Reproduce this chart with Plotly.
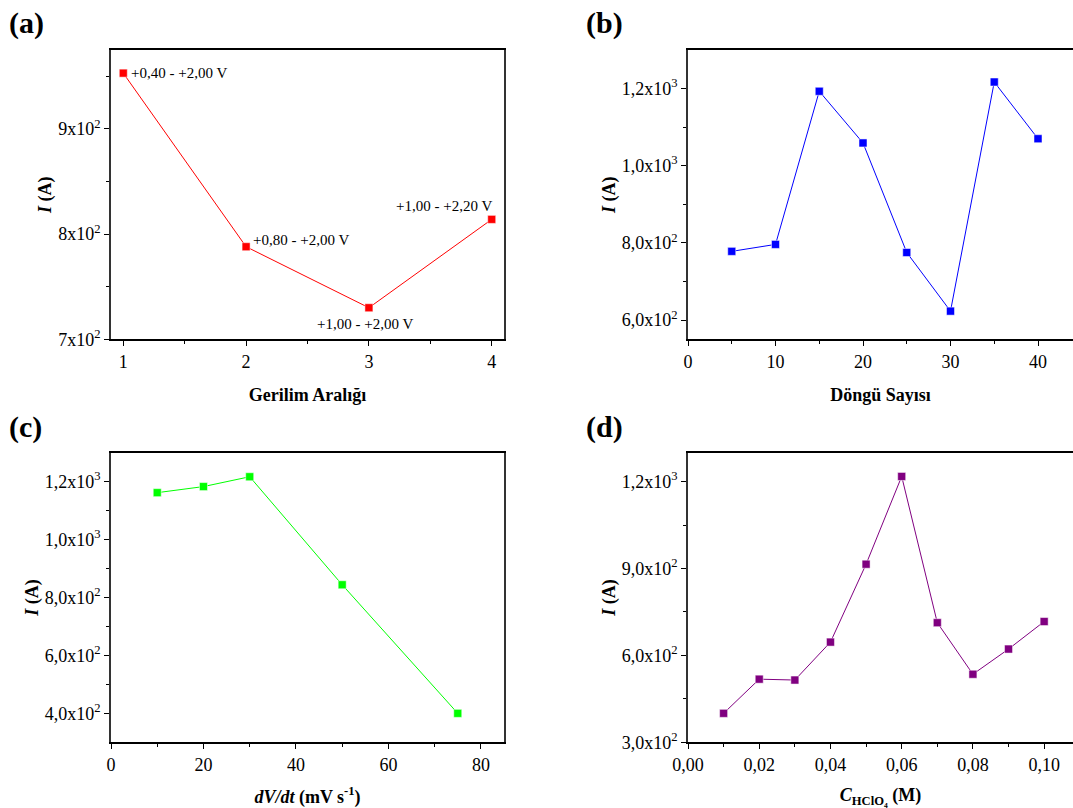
import plotly.graph_objects as go

W, H = 1073, 808

# ---------------- data ----------------
a_x = [1, 2, 3, 4]
a_y = [953, 788, 730, 814]
a_labels = ["+0,40 - +2,00 V", "+0,80 - +2,00 V", "+1,00 - +2,00 V", "+1,00 - +2,20 V"]

b_x = [5, 10, 15, 20, 25, 30, 35, 40]
b_y = [778, 796, 1193, 1059, 775, 623, 1217, 1070]

c_x = [10, 20, 30, 50, 75]
c_y = [1162, 1183, 1217, 844, 400]

d_x = [0.01, 0.02, 0.03, 0.04, 0.05, 0.06, 0.07, 0.08, 0.09, 0.10]
d_y = [400, 518, 515, 646, 915, 1218, 713, 535, 622, 717]

# tick values / labels
a_xt = [1, 2, 3, 4]
a_xt_text = ["1", "2", "3", "4"]
a_yt = [700, 800, 900]
a_yt_text = ["7x10<sup>2</sup>", "8x10<sup>2</sup>", "9x10<sup>2</sup>"]

b_xt = [0, 10, 20, 30, 40]
b_xt_text = ["0", "10", "20", "30", "40"]
b_yt = [600, 800, 1000, 1200]
b_yt_text = ["6,0x10<sup>2</sup>", "8,0x10<sup>2</sup>", "1,0x10<sup>3</sup>", "1,2x10<sup>3</sup>"]

c_xt = [0, 20, 40, 60, 80]
c_xt_text = ["0", "20", "40", "60", "80"]
c_yt = [400, 600, 800, 1000, 1200]
c_yt_text = ["4,0x10<sup>2</sup>", "6,0x10<sup>2</sup>", "8,0x10<sup>2</sup>",
             "1,0x10<sup>3</sup>", "1,2x10<sup>3</sup>"]

d_xt = [0.0, 0.02, 0.04, 0.06, 0.08, 0.10]
d_xt_text = ["0,00", "0,02", "0,04", "0,06", "0,08", "0,10"]
d_yt = [300, 600, 900, 1200]
d_yt_text = ["3,0x10<sup>2</sup>", "6,0x10<sup>2</sup>", "9,0x10<sup>2</sup>", "1,2x10<sup>3</sup>"]

# minor ticks
a_xm = [1.5, 2.5, 3.5]
a_ym = [750, 850, 950]
b_xm = [5, 15, 25, 35]
b_ym = [700, 900, 1100]
c_xm = [10, 30, 50, 70]
c_ym = [500, 700, 900, 1100]
d_xm = [0.01, 0.03, 0.05, 0.07, 0.09]
d_ym = [450, 750, 1050]

FONT = "Liberation Serif, Times New Roman, serif"
TICKF = dict(family=FONT, size=18, color="black")
TITLEF = dict(family=FONT, size=18, color="black")

# ---------------- layout geometry (pixels) ----------------
def px_x(p):
    return p / W

def px_y(p):
    return 1 - p / H

dom_x_left = [px_x(111), px_x(504)]
dom_x_right = [px_x(688), 1.0]
dom_y_top = [px_y(339.3), px_y(50)]
dom_y_bot = [px_y(742.3), px_y(452.7)]

panels = [
    dict(x=a_x, y=a_y, color="#FF0000", xr=[0.9, 4.1], yr=[700, 975],
         xt=a_xt, xtt=a_xt_text, yt=a_yt, ytt=a_yt_text, xm=a_xm, ym=a_ym,
         dx=dom_x_left, dy=dom_y_top, xtitle="<b>Gerilim Aralığı</b>", right=True),
    dict(x=b_x, y=b_y, color="#0000FF", xr=[0, 44.0], yr=[550, 1300],
         xt=b_xt, xtt=b_xt_text, yt=b_yt, ytt=b_yt_text, xm=b_xm, ym=b_ym,
         dx=dom_x_right, dy=dom_y_top, xtitle="<b>Döngü Sayısı</b>", right=False),
    dict(x=c_x, y=c_y, color="#00FF00", xr=[0, 85], yr=[300, 1300],
         xt=c_xt, xtt=c_xt_text, yt=c_yt, ytt=c_yt_text, xm=c_xm, ym=c_ym,
         dx=dom_x_left, dy=dom_y_bot,
         xtitle="<b><i>dV/dt</i> (mV s<sup>-1</sup>)</b>", right=True),
    dict(x=d_x, y=d_y, color="#800080", xr=[0, 0.1081], yr=[300, 1300],
         xt=d_xt, xtt=d_xt_text, yt=d_yt, ytt=d_yt_text, xm=d_xm, ym=d_ym,
         dx=dom_x_right, dy=dom_y_bot,
         xtitle="<b><i>C</i><sub>HClO₄</sub> (M)</b>", right=False),
]

fig = go.Figure()
layout = dict(
    template="none",
    width=W, height=H,
    margin=dict(l=0, r=0, t=0, b=0, pad=0, autoexpand=False),
    paper_bgcolor="white", plot_bgcolor="white",
    showlegend=False,
    font=dict(family=FONT, color="black", size=16),
)

for i, p in enumerate(panels, start=1):
    xn = "x" if i == 1 else f"x{i}"
    yn = "y" if i == 1 else f"y{i}"
    fig.add_trace(go.Scatter(
        x=p["x"], y=p["y"], mode="lines+markers", xaxis=xn, yaxis=yn,
        line=dict(color=p["color"], width=1),
        marker=dict(symbol="square", size=8, color=p["color"],
                    line=dict(color="white", width=0.5)),
        cliponaxis=False,
    ))
    xk = "xaxis" if i == 1 else f"xaxis{i}"
    yk = "yaxis" if i == 1 else f"yaxis{i}"
    layout[xk] = dict(
        domain=p["dx"], anchor=yn, range=p["xr"], automargin=False,
        tickmode="array", tickvals=p["xt"], ticktext=p["xtt"],
        ticks="outside", ticklen=5, tickwidth=1, tickcolor="black",
        minor=dict(tickmode="array", tickvals=p["xm"], ticks="outside",
                   ticklen=3, tickcolor="black"),
        showline=True, linecolor="black", linewidth=1.5,
        mirror=True,
        showgrid=False, zeroline=False, tickfont=TICKF,
        title=dict(text=p["xtitle"], font=TITLEF, standoff=18),
    )
    layout[yk] = dict(
        domain=p["dy"], anchor=xn, range=p["yr"], automargin=True,
        tickmode="array", tickvals=p["yt"], ticktext=p["ytt"],
        ticks="outside", ticklen=5, tickwidth=1, tickcolor="black",
        minor=dict(tickmode="array", tickvals=p["ym"], ticks="outside",
                   ticklen=3, tickcolor="black"),
        showline=True, linecolor="#333333", linewidth=1.5,
        mirror=p["right"],
        showgrid=False, zeroline=False, tickfont=TICKF,
        title=dict(text="<b><i>I</i> (A)</b>", font=TITLEF, standoff=2),
    )
    # inward ticks on the top border
    ox = 4 + i
    layout[f"xaxis{ox}"] = dict(
        overlaying=xn, anchor=yn, side="top", range=p["xr"], automargin=False,
        tickmode="array", tickvals=p["xt"], ticks="inside", ticklen=4,
        tickcolor="#333333", showticklabels=False, showline=False,
        showgrid=False, zeroline=False,
        minor=dict(tickmode="array", tickvals=p["xm"], ticks="inside",
                   ticklen=3, tickcolor="#333333"),
    )
    if p["right"]:
        layout[f"yaxis{ox}"] = dict(
            overlaying=yn, anchor=xn, side="right", range=p["yr"], automargin=False,
            tickmode="array", tickvals=p["yt"], ticks="inside", ticklen=4,
            tickcolor="#333333", showticklabels=False, showline=False,
            showgrid=False, zeroline=False,
            minor=dict(tickmode="array", tickvals=p["ym"], ticks="inside",
                       ticklen=3, tickcolor="#333333"),
        )

# panel letters
annotations = []
letters = [("(a)", 8, 23), ("(b)", 585, 23), ("(c)", 8, 427), ("(d)", 585, 427)]
for txt, lx, ly in letters:
    annotations.append(dict(
        text=f"<b>{txt}</b>", xref="paper", yref="paper",
        x=px_x(lx), y=px_y(ly), xanchor="left", yanchor="middle",
        showarrow=False, borderpad=0,
        font=dict(family=FONT, size=30, color="black"),
    ))

# point labels for panel (a)
lab_style = [
    dict(xanchor="left", yanchor="middle", xshift=7, yshift=0),
    dict(xanchor="left", yanchor="middle", xshift=6, yshift=7),
    dict(xanchor="center", yanchor="middle", xshift=-4, yshift=-16),
    dict(xanchor="right", yanchor="middle", xshift=1, yshift=13),
]
for xv, yv, t, st in zip(a_x, a_y, a_labels, lab_style):
    annotations.append(dict(
        text=t, x=xv, y=yv, xref="x", yref="y", showarrow=False, borderpad=0,
        font=dict(family=FONT, size=15, color="black"), **st,
    ))

layout["annotations"] = annotations
fig.update_layout(**layout)
fig.write_html("out.html")
